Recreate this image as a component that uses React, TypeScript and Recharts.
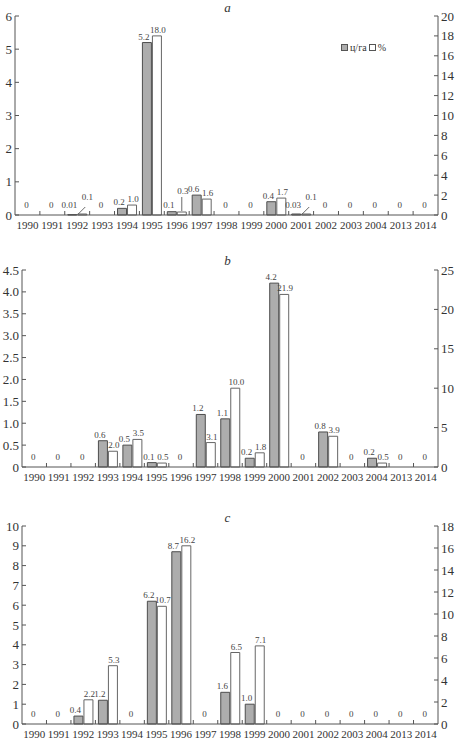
import React from 'react';
import { ComposedChart, Bar, Scatter, XAxis, YAxis, LabelList, Legend } from 'recharts';

const years = ['1990', '1991', '1992', '1993', '1994', '1995', '1996', '1997', '1998', '1999', '2000', '2001', '2002', '2003', '2004', '2013', '2014'];

// panel a
const yieldA = [0, 0, 0.01, 0, 0.2, 5.2, 0.1, 0.6, 0, 0, 0.4, 0.03, 0, 0, 0, 0, 0];
const shareA = [0, 0, 0.1, 0, 1.0, 18.0, 0.3, 1.6, 0, 0, 1.7, 0.1, 0, 0, 0, 0, 0];
const leftTicksA = [0, 1, 2, 3, 4, 5, 6];
const rightTicksA = [0, 2, 4, 6, 8, 10, 12, 14, 16, 18, 20];

// panel b
const yieldB = [0, 0, 0, 0.6, 0.5, 0.1, 0, 1.2, 1.1, 0.2, 4.2, 0, 0.8, 0, 0.2, 0, 0];
const shareB = [0, 0, 0, 2.0, 3.5, 0.5, 0, 3.1, 10.0, 1.8, 21.9, 0, 3.9, 0, 0.5, 0, 0];
const leftTicksB = [0, 0.5, 1, 1.5, 2, 2.5, 3, 3.5, 4, 4.5];
const rightTicksB = [0, 5, 10, 15, 20, 25];

// panel c
const yieldC = [0, 0, 0.4, 1.2, 0, 6.2, 8.7, 0, 1.6, 1.0, 0, 0, 0, 0, 0, 0, 0];
const shareC = [0, 0, 2.2, 5.3, 0, 10.7, 16.2, 0, 6.5, 7.1, 0, 0, 0, 0, 0, 0, 0];
const leftTicksC = [0, 1, 2, 3, 4, 5, 6, 7, 8, 9, 10];
const rightTicksC = [0, 2, 4, 6, 8, 10, 12, 14, 16, 18];

const SERIES = ['ц/га', '%'];

const W = 455;
const RIGHT_W = 17;
const FONT = '"Liberation Serif", "DejaVu Serif", serif';
const AXIS = '#555';
const TEXT = '#333';

const fmtInt = (v: number) => String(v);
const fmtHalf = (v: number) => (v === 0 ? '0' : v.toFixed(1));
const fmtYield = (v: number) => (v < 0.1 ? String(v) : v.toFixed(1));

const lbl = { fontSize: 9, fill: '#444', fontFamily: FONT, textAnchor: 'middle' as const };

interface PanelProps {
  title: string;
  yields: number[];
  shares: number[];
  leftTicks: number[];
  rightTicks: number[];
  leftFmt: (v: number) => string;
  top: number;
  height: number;
  plotTop: number;
  xAxisH: number;
  leftW: number;
  titleY: number;
  leaders?: Record<number, 'slant' | 'vertical'>;
  legend?: boolean;
}

function Panel({ title, yields, shares, leftTicks, rightTicks, leftFmt, top, height, plotTop, xAxisH, leftW, titleY, leaders = {}, legend }: PanelProps) {
  // z marks the years where both values are zero and a single "0" is written
  const data = years.map((year, i) => ({
    year,
    y: yields[i],
    p: shares[i],
    z: yields[i] === 0 && shares[i] === 0 ? 0 : null,
  }));
  const band = (W - RIGHT_W - leftW) / years.length;
  const catOf = (x: number) => Math.floor((x - leftW) / band);

  const XTick = (props: any) => {
    const { x, y, payload, index } = props;
    return (
      <g>
        {index < years.length - 1 && (
          <line x1={x + band / 2} x2={x + band / 2} y1={y} y2={y - 4} stroke={AXIS} />
        )}
        <text x={x} y={y + 14} textAnchor="middle" fontSize={11} fill={TEXT} fontFamily={FONT}>
          {payload.value}
        </text>
      </g>
    );
  };

  const LeftTick = (props: any) => {
    const { x, y, payload } = props;
    return (
      <g>
        <line x1={x} x2={x + 4} y1={y} y2={y} stroke={AXIS} />
        <text x={x - 3} y={y + 4.5} textAnchor="end" fontSize={13} fill={TEXT} fontFamily={FONT}>
          {leftFmt(payload.value)}
        </text>
      </g>
    );
  };

  const RightTick = (props: any) => {
    const { x, y, payload } = props;
    return (
      <g>
        <line x1={x} x2={x - 4} y1={y} y2={y} stroke={AXIS} />
        <text x={x + 3} y={y + 4.5} textAnchor="start" fontSize={13} fill={TEXT} fontFamily={FONT}>
          {payload.value}
        </text>
      </g>
    );
  };

  const grayLabel = (props: any) => {
    const { x, y, width, height: h, value } = props;
    if (!value) return null;
    const base = Number(y) + Number(h);
    return (
      <text x={Number(x) + Number(width) / 2 - 3} y={Math.min(Number(y) - 3, base - 7)} {...lbl}>
        {fmtYield(value)}
      </text>
    );
  };

  const whiteLabel = (props: any) => {
    const { x, y, width, height: h, value } = props;
    if (!value) return null;
    const cx = Number(x) + Number(width) / 2;
    const top0 = Number(y);
    const base = top0 + Number(h);
    const kind = leaders[catOf(Number(x))];
    if (kind === 'slant') {
      return (
        <g>
          <line x1={cx - 4} y1={base - 1} x2={cx + 3} y2={base - 8} stroke="#444" strokeWidth={0.8} />
          <text x={cx + 5} y={base - 15} {...lbl}>{value.toFixed(1)}</text>
        </g>
      );
    }
    if (kind === 'vertical') {
      return (
        <g>
          <line x1={cx} y1={top0 - 1} x2={cx} y2={top0 - 15} stroke="#444" strokeWidth={0.8} />
          <text x={cx + 1} y={top0 - 18} {...lbl}>{value.toFixed(1)}</text>
        </g>
      );
    }
    return (
      <text x={cx + 1} y={Math.min(top0 - 3, base - 7)} {...lbl}>
        {value.toFixed(1)}
      </text>
    );
  };

  const zeroMark = (props: any) => {
    const { cx, cy, payload } = props;
    if (!payload || payload.z === null || payload.z === undefined) return <g />;
    return <text x={cx - 1} y={cy - 7} {...lbl}>0</text>;
  };

  const renderLegend = (props: any) => {
    const items = (props.payload || [])
      .filter((it: any) => SERIES.includes(it.value))
      .sort((a: any, b: any) => SERIES.indexOf(a.value) - SERIES.indexOf(b.value));
    return (
      <div style={{ display: 'flex', alignItems: 'center', fontFamily: FONT, fontSize: 10, color: TEXT, whiteSpace: 'nowrap' }}>
        {items.map((it: any) => (
          <span key={it.value} style={{ display: 'inline-flex', alignItems: 'center', marginRight: 2 }}>
            <span
              style={{
                display: 'inline-block',
                width: 5,
                height: 5,
                background: it.color,
                border: '1px solid #555',
                marginRight: 2,
              }}
            />
            {it.value}
          </span>
        ))}
      </div>
    );
  };

  return (
    <>
      <div
        style={{
          position: 'absolute',
          left: 0,
          top: titleY - 8,
          width: W,
          textAlign: 'center',
          fontFamily: FONT,
          fontStyle: 'italic',
          fontSize: 13,
          color: TEXT,
          lineHeight: '16px',
        }}
      >
        {title}
      </div>
      <div style={{ position: 'absolute', left: 0, top, width: W, height }}>
        <ComposedChart
          width={W}
          height={height}
          data={data}
          margin={{ top: plotTop - top, right: 0, bottom: 0, left: 0 }}
          barGap={1}
          barSize={9}
        >
          <XAxis
            dataKey="year"
            height={xAxisH}
            interval={0}
            tickSize={0}
            tickMargin={0}
            tickLine={false}
            axisLine={{ stroke: AXIS }}
            tick={XTick}
          />
          <YAxis
            yAxisId="l"
            orientation="left"
            width={leftW}
            domain={[0, leftTicks[leftTicks.length - 1]]}
            ticks={leftTicks}
            interval={0}
            tickSize={0}
            tickMargin={0}
            tickLine={false}
            axisLine={{ stroke: AXIS }}
            tick={LeftTick}
          />
          <YAxis
            yAxisId="r"
            orientation="right"
            width={RIGHT_W}
            domain={[0, rightTicks[rightTicks.length - 1]]}
            ticks={rightTicks}
            interval={0}
            tickSize={0}
            tickMargin={0}
            tickLine={false}
            axisLine={{ stroke: AXIS }}
            tick={RightTick}
          />
          {legend && (
            <Legend
              layout="vertical"
              align="center"
              verticalAlign="middle"
              wrapperStyle={{ left: 341, top: 42, width: 'auto', height: 'auto' }}
              content={renderLegend}
            />
          )}
          <Bar yAxisId="l" dataKey="y" name={SERIES[0]} fill="#adadad" stroke="#4d4d4d" strokeWidth={1} isAnimationActive={false}>
            <LabelList dataKey="y" content={grayLabel} />
          </Bar>
          <Bar yAxisId="r" dataKey="p" name={SERIES[1]} fill="#ffffff" stroke="#666" strokeWidth={1} isAnimationActive={false}>
            <LabelList dataKey="p" content={whiteLabel} />
          </Bar>
          <Scatter yAxisId="l" dataKey="z" legendType="none" shape={zeroMark} isAnimationActive={false} />
        </ComposedChart>
      </div>
    </>
  );
}

export default function App() {
  return (
    <div style={{ position: 'absolute', left: 0, top: 0, width: W, height: 742, background: '#fff' }}>
      <Panel
        title="a"
        yields={yieldA}
        shares={shareA}
        leftTicks={leftTicksA}
        rightTicks={rightTicksA}
        leftFmt={fmtInt}
        top={0}
        height={245}
        plotTop={16}
        xAxisH={30}
        leftW={15}
        titleY={8}
        leaders={{ 2: 'slant', 6: 'vertical', 11: 'slant' }}
        legend
      />
      <Panel
        title="b"
        yields={yieldB}
        shares={shareB}
        leftTicks={leftTicksB}
        rightTicks={rightTicksB}
        leftFmt={fmtHalf}
        top={245}
        height={250}
        plotTop={270}
        xAxisH={28}
        leftW={22}
        titleY={261}
      />
      <Panel
        title="c"
        yields={yieldC}
        shares={shareC}
        leftTicks={leftTicksC}
        rightTicks={rightTicksC}
        leftFmt={fmtInt}
        top={495}
        height={247}
        plotTop={526}
        xAxisH={18}
        leftW={22}
        titleY={518}
      />
    </div>
  );
}
